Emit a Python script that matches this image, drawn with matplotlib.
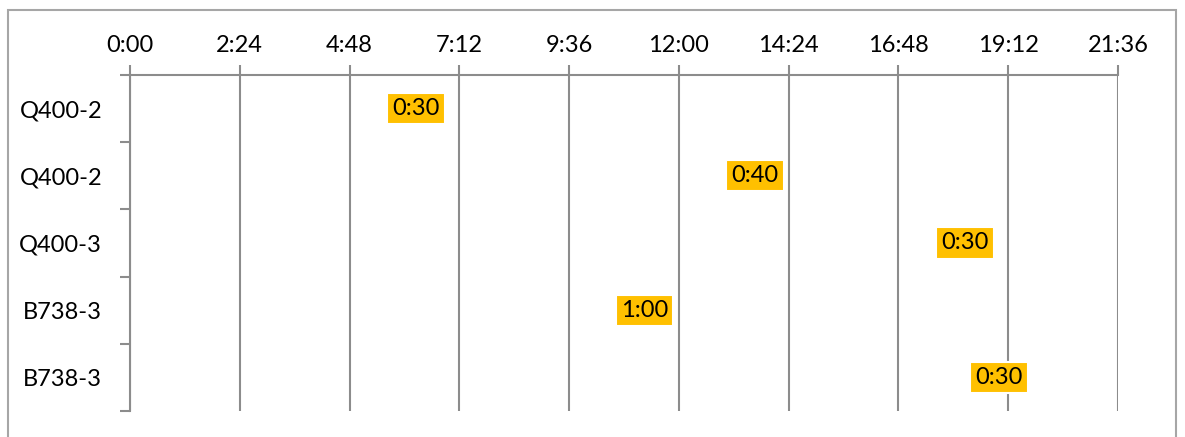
import matplotlib.pyplot as plt
from matplotlib.patches import Rectangle

plt.rcParams['font.family'] = ['Lato', 'DejaVu Sans']

# flight / turnaround data (hours)
aircraft = ['Q400-2', 'Q400-2', 'Q400-3', 'B738-3', 'B738-3']
start = [6.0, 13.333, 18.0, 10.75, 18.75]
duration = [0.5, 0.667, 0.5, 1.0, 0.5]
dur_labels = ['0:30', '0:40', '0:30', '1:00', '0:30']
tick_hours = [0, 2.4, 4.8, 7.2, 9.6, 12.0, 14.4, 16.8, 19.2, 21.6]

grey = '#8c8c8c'


def hhmm(h):
    m = int(round(h * 60))
    return '%d:%02d' % (m // 60, m % 60)


fig = plt.figure(figsize=(11.85, 4.37), dpi=100)
ax = fig.add_axes([130 / 1185, 1 - 411 / 437, 988 / 1185, 336 / 437])

ypos = list(range(len(aircraft)))
ax.barh(ypos, start, height=0.6, color='none')
bars = ax.barh(ypos, duration, left=start, height=0.6, color='none')
ax.bar_label(bars, labels=dur_labels, label_type='center', fontsize=17,
             bbox=dict(boxstyle='square,pad=0.22', fc='#FFC000', ec='white', lw=1.5))

ax.set_xlim(0, 21.6)
ax.set_ylim(len(aircraft) - 0.5, -0.5)
ax.set_xticks(tick_hours)
ax.set_xticklabels([hhmm(h) for h in tick_hours])
ax.xaxis.tick_top()
ax.set_yticks(ypos)
ax.set_yticklabels(aircraft)
ax.set_yticks([i - 0.5 for i in range(len(aircraft) + 1)], minor=True)

ax.tick_params(axis='x', which='major', length=7, width=1.5, color=grey, pad=7, labelsize=17)
ax.tick_params(axis='y', which='major', length=0, pad=20, labelsize=17)
ax.tick_params(axis='y', which='minor', length=7, width=1.5, color=grey)

for h in tick_hours:
    ax.axvline(h, color=grey, lw=1.5, zorder=0)

for s in ['bottom', 'right']:
    ax.spines[s].set_visible(False)
for s in ['top', 'left']:
    ax.spines[s].set_color(grey)
    ax.spines[s].set_linewidth(1.5)

# chart area border
fig.patches.append(Rectangle((8 / 1185, -0.1), 1168 / 1185, 1.1 - 10 / 437,
                             transform=fig.transFigure, fill=False,
                             ec='#a6a6a6', lw=1.5))

fig.savefig('out.png', dpi=100)
